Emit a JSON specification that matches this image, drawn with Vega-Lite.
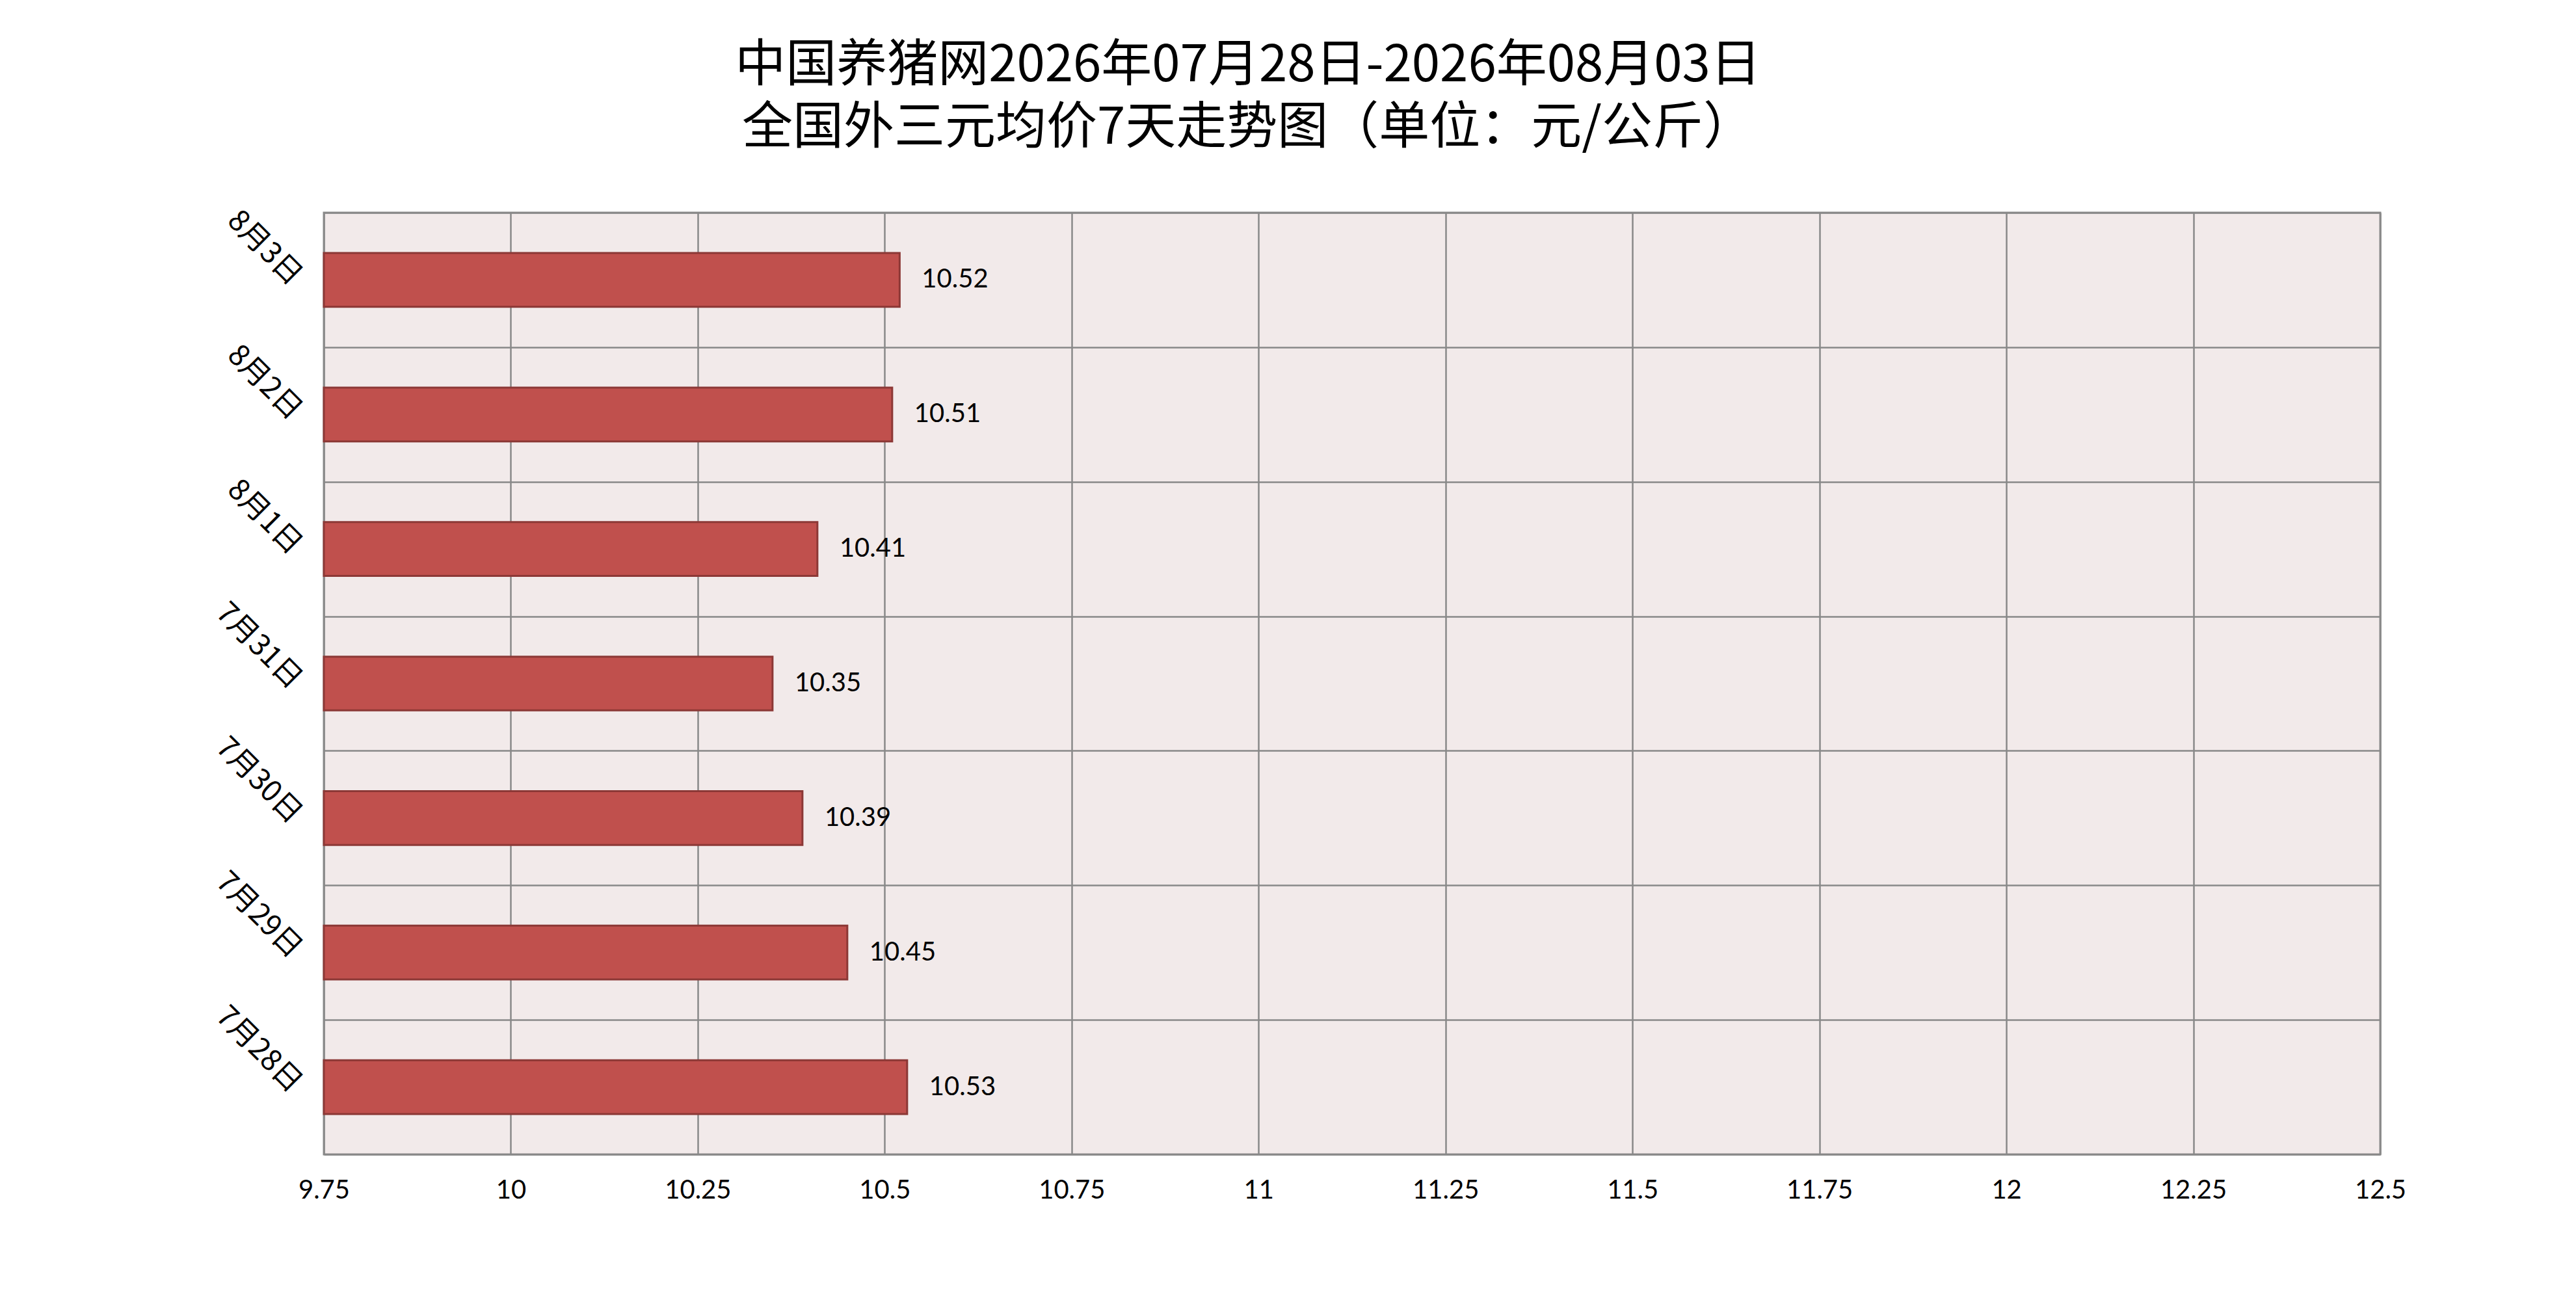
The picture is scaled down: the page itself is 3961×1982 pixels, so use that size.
{
  "$schema": "https://vega.github.io/schema/vega-lite/v6.json",
  "autosize": {"type": "none"},
  "width": 3162,
  "height": 1448,
  "padding": {"left": 498, "top": 327, "right": 301, "bottom": 207},
  "background": "white",
  "title": {
    "text": "中国养猪网2026年07月28日-2026年08月03日",
    "subtitle": "全国外三元均价7天走势图（单位：元/公斤）",
    "font": "Noto Sans CJK SC",
    "fontSize": 78,
    "fontWeight": "normal",
    "color": "black",
    "subtitleFont": "Noto Sans CJK SC",
    "subtitleFontSize": 78,
    "subtitleFontWeight": "normal",
    "subtitleColor": "black",
    "subtitlePadding": 18,
    "anchor": "middle",
    "frame": "group",
    "dx": -160,
    "offset": 74
  },
  "data": {
    "values": [
      {"date": "8月3日", "price": 10.52},
      {"date": "8月2日", "price": 10.51},
      {"date": "8月1日", "price": 10.41},
      {"date": "7月31日", "price": 10.35},
      {"date": "7月30日", "price": 10.39},
      {"date": "7月29日", "price": 10.45},
      {"date": "7月28日", "price": 10.53}
    ]
  },
  "encoding": {
    "y": {
      "field": "date",
      "type": "nominal",
      "sort": null,
      "title": null,
      "scale": {"paddingInner": 0, "paddingOuter": 0},
      "axis": {
        "labelAngle": 45,
        "labelAlign": "right",
        "labelBaseline": "middle",
        "labelPadding": 42,
        "labelFont": "Noto Sans CJK SC",
        "labelFontSize": 45,
        "labelColor": "black",
        "ticks": false,
        "domain": false,
        "grid": true,
        "tickBand": "extent",
        "gridColor": "#898989",
        "gridWidth": 2.5,
        "gridOpacity": 1
      }
    },
    "x": {
      "field": "price",
      "type": "quantitative",
      "title": null,
      "scale": {"domain": [9.75, 12.5], "zero": false, "nice": false},
      "axis": {
        "values": [9.75, 10, 10.25, 10.5, 10.75, 11, 11.25, 11.5, 11.75, 12, 12.25, 12.5],
        "format": ".2~f",
        "labelFont": "Lato",
        "labelFontSize": 40,
        "labelColor": "black",
        "labelPadding": 35,
        "labelFlush": false,
        "ticks": false,
        "domain": false,
        "grid": true,
        "gridColor": "#898989",
        "gridWidth": 2.5,
        "gridOpacity": 1
      }
    }
  },
  "layer": [
    {
      "mark": {
        "type": "bar",
        "height": {"band": 0.4},
        "color": "#C0504D",
        "stroke": "#8C3836",
        "strokeWidth": 3
      },
      "encoding": {
        "x2": {"datum": 9.75}
      }
    },
    {
      "mark": {
        "type": "text",
        "align": "left",
        "baseline": "middle",
        "dx": 34,
        "font": "Lato",
        "fontSize": 40,
        "color": "black"
      },
      "encoding": {
        "text": {"field": "price", "type": "quantitative", "format": ".2f"}
      }
    }
  ],
  "config": {
    "view": {"fill": "#F2EAEA", "stroke": "#898989", "strokeWidth": 3}
  }
}
